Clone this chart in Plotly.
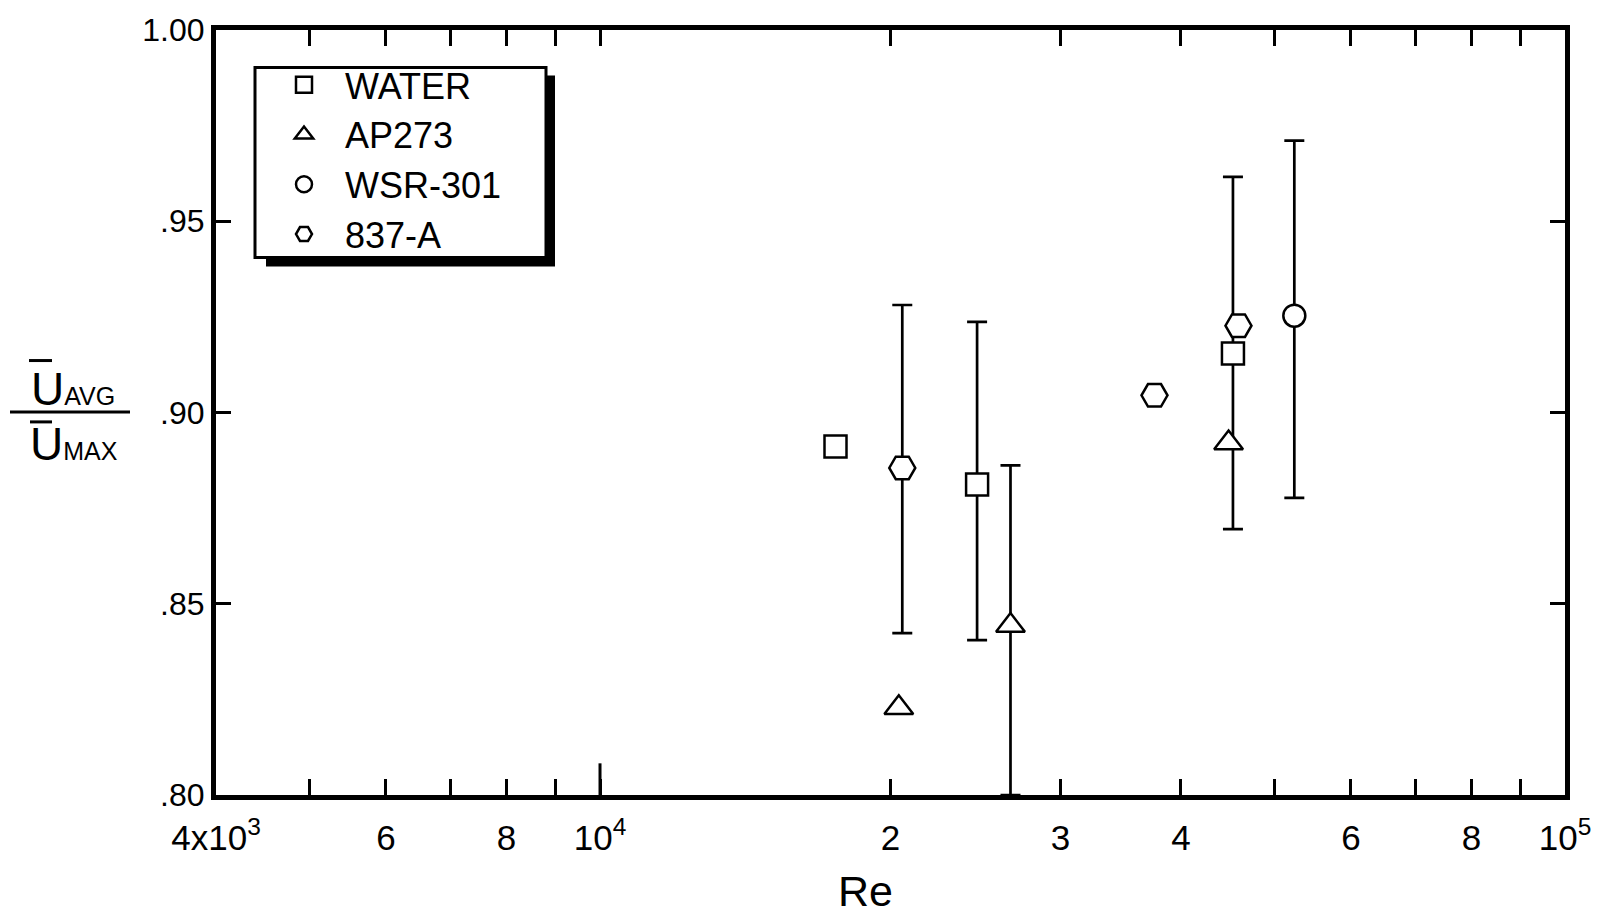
import numpy as np
import plotly.graph_objects as go

# Reynolds number and mean/max velocity ratio for each fluid
water_re = [17540, 24590, 45280]
water_ratio = [0.8911, 0.8812, 0.9154]
water_hi = [np.nan, 0.9237, 0.9616]
water_lo = [np.nan, 0.8405, 0.8695]

ap273_re = [20400, 26630, 44810]
ap273_ratio = [0.8228, 0.8443, 0.8920]
ap273_hi = [np.nan, 0.8862, np.nan]
ap273_lo = [np.nan, 0.8000, np.nan]

wsr301_re = [52420]
wsr301_ratio = [0.9253]
wsr301_hi = [0.9711]
wsr301_lo = [0.8777]

a837_re = [20570, 37550, 45880]
a837_ratio = [0.8855, 0.9045, 0.9227]
a837_hi = [0.9281, np.nan, np.nan]
a837_lo = [0.8423, np.nan, np.nan]

x_tickvals = [4000, 5000, 6000, 7000, 8000, 9000, 10000,
              20000, 30000, 40000, 50000, 60000, 70000, 80000, 90000, 100000]
x_ticktext = ["4x10<sup>3</sup>", "", "6", "", "8", "", "10<sup>4</sup>",
              "2", "3", "4", "", "6", "", "8", "", "10<sup>5</sup>"]
y_tickvals = [0.80, 0.85, 0.90, 0.95, 1.00]
y_ticktext = [".80", ".85", ".90", ".95", "1.00"]

FONT = "Liberation Sans, Arial, sans-serif"
W, H = 1608, 917
L, R, T, B = 216, 43, 22, 122
PLOT_H = H - T - B


def px_x(p):
    return (p - L) / (W - L - R)


def px_y(p):
    return (H - B - p) / PLOT_H


def series(name, re, ratio, hi, lo, symbol, size):
    ratio = np.array(ratio, dtype=float)
    plus = np.array(hi, dtype=float) - ratio
    minus = ratio - np.array(lo, dtype=float)
    return go.Scatter(
        x=np.array(re, dtype=float), y=ratio, name=name, mode="markers",
        marker=dict(symbol=symbol, size=size, color="white",
                    line=dict(color="black", width=2.5)),
        error_y=dict(type="data", symmetric=False, array=plus, arrayminus=minus,
                     color="black", thickness=2.7, width=10),
    )


fig = go.Figure()
fig.add_trace(series("WATER", water_re, water_ratio, water_hi, water_lo, "square", 22))
fig.add_trace(series("AP273", ap273_re, ap273_ratio, ap273_hi, ap273_lo, "triangle-up", 25))
fig.add_trace(series("WSR-301", wsr301_re, wsr301_ratio, wsr301_hi, wsr301_lo, "circle", 22))
fig.add_trace(series("837-A", a837_re, a837_ratio, a837_hi, a837_lo, "hexagon2", 26))

axis_common = dict(
    showline=True, linewidth=5, linecolor="black", mirror="ticks",
    ticks="inside", tickwidth=3, tickcolor="black",
    showgrid=False, zeroline=False,
)

fig.update_xaxes(
    type="log", range=[np.log10(4000), 5], tickmode="array",
    tickvals=x_tickvals, ticktext=x_ticktext, ticklen=16,
    tickfont=dict(family=FONT, size=35, color="black"), ticklabelstandoff=8,
    **axis_common,
)
fig.update_yaxes(
    range=[0.80, 1.00], tickmode="array", tickvals=y_tickvals, ticktext=y_ticktext,
    ticklen=15, tickfont=dict(family=FONT, size=32, color="black"),
    **axis_common,
)

# longer tick marking the decade 10^4 on the bottom axis
fig.add_shape(type="line", xref="x", yref="paper", x0=10000, x1=10000,
              y0=0, y1=32 / PLOT_H, line=dict(color="black", width=3))

# x-axis title
fig.add_annotation(text="Re", xref="paper", yref="paper", x=px_x(865), y=px_y(892),
                   xanchor="center", yanchor="middle", showarrow=False,
                   font=dict(family=FONT, size=43, color="black"))

# ratio label on the left: U-bar AVG over U-bar MAX
fig.add_annotation(text="U<span style='font-size:25px'>AVG</span>", xref="paper", yref="paper",
                   x=px_x(73), y=px_y(385), xanchor="center", yanchor="middle",
                   showarrow=False, font=dict(family=FONT, size=46, color="black"))
fig.add_annotation(text="U<span style='font-size:25px'>MAX</span>", xref="paper", yref="paper",
                   x=px_x(74), y=px_y(440), xanchor="center", yanchor="middle",
                   showarrow=False, font=dict(family=FONT, size=46, color="black"))

line_style = dict(color="black", width=3)
fig.add_shape(type="line", xref="paper", yref="paper",
              x0=px_x(10), x1=px_x(130), y0=px_y(408), y1=px_y(408), line=line_style)
fig.add_shape(type="line", xref="paper", yref="paper",
              x0=px_x(29), x1=px_x(52), y0=px_y(356), y1=px_y(356), line=line_style)
fig.add_shape(type="line", xref="paper", yref="paper",
              x0=px_x(30), x1=px_x(52), y0=px_y(418), y1=px_y(418), line=line_style)

# legend frame with a drop shadow
fig.add_shape(type="rect", xref="paper", yref="paper", layer="above",
              x0=px_x(266), x1=px_x(555), y0=px_y(261), y1=px_y(68),
              fillcolor="black", line=dict(width=0))
fig.add_shape(type="rect", xref="paper", yref="paper", layer="above",
              x0=px_x(255), x1=px_x(546), y0=px_y(252), y1=px_y(60),
              fillcolor="white", line=dict(color="black", width=3))

fig.update_layout(
    width=W, height=H,
    margin=dict(l=L, r=R, t=T, b=B),
    paper_bgcolor="white", plot_bgcolor="white",
    font=dict(family=FONT, color="black"),
    legend=dict(
        x=px_x(263), y=px_y(47), xanchor="left", yanchor="top",
        borderwidth=0, bgcolor="rgba(0,0,0,0)",
        font=dict(family=FONT, size=36, color="black"),
        traceorder="normal", itemwidth=72,
    ),
    showlegend=True,
)

fig.write_html("out.html")
